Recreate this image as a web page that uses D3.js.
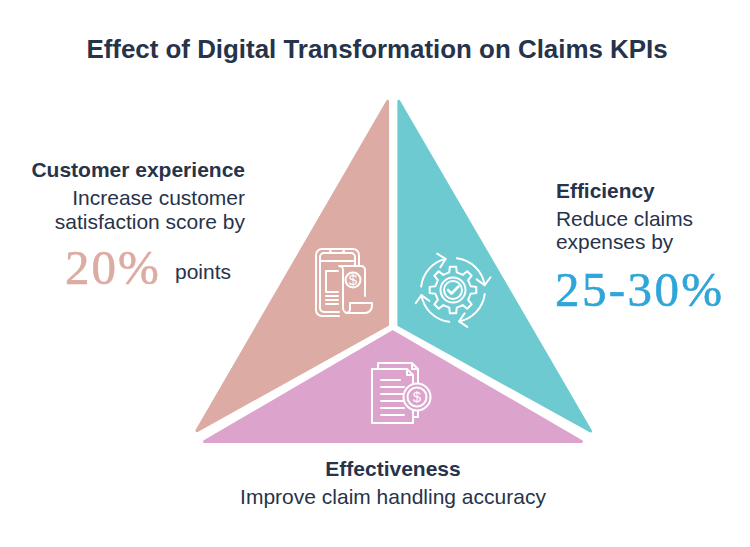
<!DOCTYPE html>
<html>
<head>
<meta charset="utf-8">
<script src="https://cdn.jsdelivr.net/npm/d3@7"></script>
<style>
html, body { margin: 0; padding: 0; background: #fff; }
svg { display: block; }
</style>
</head>
<body>
<svg id="vis"></svg>
<script>
const titleText = "Effect of Digital Transformation on Claims KPIs";
const wedgeNames = ["Customer experience", "Efficiency", "Effectiveness"];
const wedgeColors = ["#dcaba3", "#6ecad1", "#dca3cd"];
// wedge corners in triangle units: x -1..1 left to right, y 0 (base) .. 1 (apex)
const roseCorners = [[-0.03, 0.993], [-0.03, 0.344], [-0.99, 0.036]];
const tealCorners = [[0.027, 0.993], [0.027, 0.343], [0.9925, 0.035]];
const pinkCorners = [[-0.004, 0.323], [0.947, 0.0044], [-0.952, 0.0044]];
const bodyLeft = ["Increase customer", "satisfaction score by"];
const bodyRight = ["Reduce claims", "expenses by"];
const bodyBottom = "Improve claim handling accuracy";
const bigLeft = "20%";
const bigLeftUnit = "points";
const bigRight = "25-30%";

const WIDTH = 750, HEIGHT = 547;
const DARK = "#27334a";
const BLUE = "#2fa5da";
const SANS = "'Liberation Sans', Arial, sans-serif";
const SERIF = "'Liberation Serif', Georgia, serif";

const svg = d3.select("#vis").attr("width", WIDTH).attr("height", HEIGHT);
const x = d3.scaleLinear().domain([-1, 1]).range([195, 592]);
const y = d3.scaleLinear().domain([0, 1]).range([443, 99]);
const line = d3.line().x(d => x(d[0])).y(d => y(d[1])).curve(d3.curveLinearClosed);

// wedges, stroke of same colour rounds the tips
svg.selectAll("path.wedge")
    .data([roseCorners, tealCorners, pinkCorners])
    .enter().append("path")
    .attr("class", "wedge")
    .attr("d", line)
    .attr("fill", (d, i) => wedgeColors[i])
    .attr("stroke", (d, i) => wedgeColors[i])
    .attr("stroke-width", 3)
    .attr("stroke-linejoin", "round");

function addText(str, px, py, size, opts) {
    opts = opts || {};
    let t = svg.append("text")
        .attr("x", px).attr("y", py)
        .attr("font-family", opts.family || SANS)
        .attr("font-size", size)
        .attr("font-weight", opts.weight || "normal")
        .attr("text-anchor", opts.anchor || "start")
        .attr("letter-spacing", opts.spacing || 0)
        .attr("fill", opts.fill || DARK)
        .text(str);
    // the big serif figures are a bit heavier than the plain font
    if (opts.family == SERIF) t.attr("stroke", opts.fill).attr("stroke-width", 0.6);
    return t;
}

addText(titleText, 377, 58, 25.9, {weight: "bold", anchor: "middle"});

addText(wedgeNames[0], 245, 177, 21, {weight: "bold", anchor: "end"});
addText(bodyLeft[0], 245, 205, 21, {anchor: "end"});
addText(bodyLeft[1], 245, 229, 21, {anchor: "end"});
addText(bigLeft, 65, 284, 49, {family: SERIF, fill: wedgeColors[0], spacing: 2});
addText(bigLeftUnit, 175, 279, 21);

addText(wedgeNames[1], 556, 198, 20.9, {weight: "bold"});
addText(bodyRight[0], 556, 226, 20.9);
addText(bodyRight[1], 556, 249, 20.9);
addText(bigRight, 555, 306, 49, {family: SERIF, fill: BLUE, spacing: 2.4});

addText(wedgeNames[2], 393, 476, 21, {weight: "bold", anchor: "middle"});
addText(bodyBottom, 393, 504, 21, {anchor: "middle"});

// white line icons
const icons = svg.append("g")
    .attr("fill", "none")
    .attr("stroke", "#fff")
    .attr("stroke-width", 2)
    .attr("stroke-linejoin", "round")
    .attr("stroke-linecap", "round");

function dollar(g, cx, cy) {
    g.append("text").attr("x", cx).attr("y", cy + 5.5)
        .attr("text-anchor", "middle").attr("font-family", SANS)
        .attr("font-size", 15).attr("fill", "#fff").attr("stroke", "none").text("$");
}

function drawPhoneIcon() {
    const g = icons.append("g");
    g.append("path").attr("d", "M339 316H322a6 6 0 0 1-6-6V255a6 6 0 0 1 6-6H353a6 6 0 0 1 6 6V266");
    g.append("path").attr("d", "M339 312H324a4 4 0 0 1-4-4V257a4 4 0 0 1 4-4H351a4 4 0 0 1 4 4V266");
    g.append("path").attr("d", "M330 249v1a3 3 0 0 0 3 3H341a3 3 0 0 0 3-3v-1");
    g.append("path").attr("d", "M321 261H354");
    g.append("path").attr("d", "M338 271H326V292H338");
    g.append("path").attr("d", "M326 296H338M326 300H338M326 304H338");
    g.append("path").attr("d", "M339 266H361a4 4 0 0 1 4 4V296M339 266a4 4 0 0 1 4 4V308a5 5 0 0 0 5 5H352");
    g.append("path").attr("d", "M348 313H365a7 7 0 0 0 7-7V303H350V309a4 4 0 0 1-4 4");
    g.append("circle").attr("cx", 353).attr("cy", 280).attr("r", 7.5);
    dollar(g, 353, 279.5);
}

function drawGearIcon() {
    const cx = 453, cy = 290;
    const g = icons.append("g").attr("transform", "translate(" + cx + "," + cy + ")");
    // ring of four arrows
    const arc = d3.arc().innerRadius(32).outerRadius(32);
    [[0.12, 1.42], [1.7, 2.95], [3.26, 4.55], [4.82, 6.05]].forEach(function(a) {
        g.append("path").attr("d", arc({startAngle: a[0], endAngle: a[1]}));
        const tip = a[1] - Math.PI / 2;
        const px = 32 * Math.cos(tip), py = 32 * Math.sin(tip);
        const deg = a[1] * 180 / Math.PI;
        g.append("path")
            .attr("transform", "translate(" + px + "," + py + ") rotate(" + deg + ")")
            .attr("d", "M-7 -7L0 0L-7 7");
    });
    // gear outline with 8 teeth
    const teeth = 8, gearPts = [];
    for (let i = 0; i < teeth; i++) {
        const a = i * 2 * Math.PI / teeth;
        const step = 2 * Math.PI / teeth;
        gearPts.push([a - step * 0.17, 23.5], [a + step * 0.17, 23.5], [a + step * 0.27, 18], [a + step * 0.73, 18]);
    }
    g.append("path").attr("d", d3.lineRadial().angle(d => d[0]).radius(d => d[1]).curve(d3.curveLinearClosed)(gearPts));
    g.append("circle").attr("r", 12.5);
    g.append("circle").attr("r", 9);
    g.append("path").attr("d", "M-5 0L-1.5 3.5L5.5 -3.5").attr("stroke-width", 2.6);
}

function drawDocIcon() {
    const g = icons.append("g");
    g.append("path").attr("d", "M378 369V363H412L418 369V385");
    g.append("path").attr("d", "M412 363V369H418");
    g.append("path").attr("d", "M418 410V417H413");
    g.append("path").attr("d", "M372 369H407L413 375V423H372Z");
    g.append("path").attr("d", "M407 369V375H413");
    [380, 387, 394, 401, 408].forEach(function(ly, i) {
        g.append("path").attr("d", "M381 " + ly + "H" + (i == 0 ? 400 : 404));
    });
    g.append("path").attr("d", "M381 415H404");
    g.append("circle").attr("cx", 417).attr("cy", 397).attr("r", 13.5).attr("fill", wedgeColors[2]);
    g.append("circle").attr("cx", 417).attr("cy", 397).attr("r", 9.5);
    dollar(g, 417, 396.5);
}

drawPhoneIcon();
drawGearIcon();
drawDocIcon();
</script>
</body>
</html>
